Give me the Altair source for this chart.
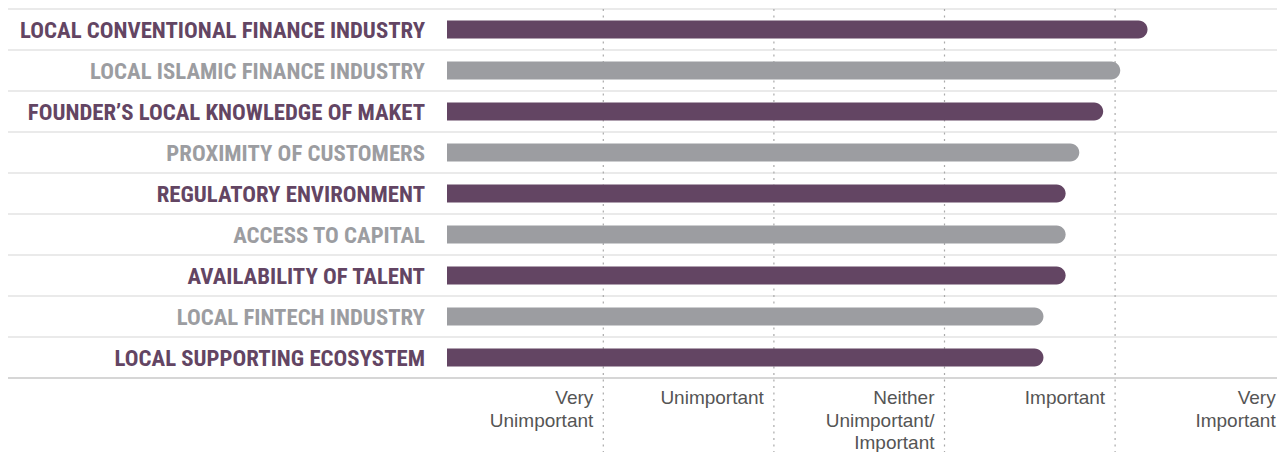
import altair as alt
import pandas as pd

categories = [
    "LOCAL CONVENTIONAL FINANCE INDUSTRY",
    "LOCAL ISLAMIC FINANCE INDUSTRY",
    "FOUNDER\u2019S LOCAL KNOWLEDGE OF MAKET",
    "PROXIMITY OF CUSTOMERS",
    "REGULATORY ENVIRONMENT",
    "ACCESS TO CAPITAL",
    "AVAILABILITY OF TALENT",
    "LOCAL FINTECH INDUSTRY",
    "LOCAL SUPPORTING ECOSYSTEM",
]
scores = [4.19, 4.03, 3.93, 3.79, 3.71, 3.71, 3.71, 3.58, 3.58]
groups = ["a", "b", "a", "b", "a", "b", "a", "b", "a"]

scale_pos = [1, 2, 3, 4, 5]
scale_labels = [
    "Very\nUnimportant",
    "Unimportant",
    "Neither\nUnimportant/\nImportant",
    "Important",
    "Very\nImportant",
]
grid_pos = [1, 2, 3, 4]

PURPLE = "#634563"
GREY = "#9c9da1"

W, H = 830, 369
XMIN, XMAX = 0.0838, 4.9490

df = pd.DataFrame({"cat": categories, "score": scores, "grp": groups})
df_lab = pd.DataFrame({"pos": scale_pos, "label": scale_labels})
df_grid = pd.DataFrame({"pos": grid_pos})

xscale = alt.Scale(domain=[XMIN, XMAX], nice=False, zero=False)
yscale = alt.Scale(domain=categories, paddingInner=0, paddingOuter=0)
cscale = alt.Scale(domain=["a", "b"], range=[PURPLE, GREY])

base = alt.Chart(df)

sep = base.mark_rule(color="#d6d6d6", strokeWidth=1.2).encode(
    y=alt.Y("cat:N", scale=yscale, bandPosition=0, axis=None),
    x=alt.value(-439),
    x2=alt.value(W),
)
sep_bottom = base.mark_rule(color="#d6d6d6", strokeWidth=1.2).encode(
    y=alt.value(H),
    x=alt.value(-439),
    x2=alt.value(W),
)

grid = alt.Chart(df_grid).mark_rule(
    color="#aaaaaa", strokeWidth=1.2, strokeDash=[2, 4.5]
).encode(
    x=alt.X("pos:Q", scale=xscale, axis=None),
    y=alt.value(0),
    y2=alt.value(443),
)

bars = base.mark_bar(
    size=18, cornerRadiusTopRight=9, cornerRadiusBottomRight=9
).encode(
    y=alt.Y("cat:N", scale=yscale, axis=None),
    x=alt.X("score:Q", scale=xscale, axis=None),
    x2=alt.datum(XMIN),
    color=alt.Color("grp:N", scale=cscale, legend=None),
)

labels = base.mark_text(
    align="right",
    baseline="alphabetic",
    dy=8.4,
    font="Roboto Condensed, Liberation Sans Narrow, Liberation Sans",
    fontWeight="bold",
    fontSize=22.8,
).encode(
    y=alt.Y("cat:N", scale=yscale, axis=None),
    x=alt.value(-22),
    text="cat:N",
    color=alt.Color("grp:N", scale=cscale, legend=None),
)

xlabels = alt.Chart(df_lab).mark_text(
    align="right",
    baseline="alphabetic",
    lineBreak="\n",
    lineHeight=22.5,
    fontSize=19,
    font="Liberation Sans",
    color="#555555",
    dx=-10,
).encode(
    x=alt.X("pos:Q", scale=xscale, axis=None),
    y=alt.value(395),
    text="label:N",
)

chart = (
    alt.layer(sep, sep_bottom, grid, bars, labels, xlabels)
    .properties(
        width=W,
        height=H,
        autosize=alt.AutoSizeParams(type="none"),
        padding={"left": 439, "top": 1, "right": 0, "bottom": 74},
    )
    .configure_view(stroke=None)
)

chart.save("out.html", embed_options={"renderer": "svg", "actions": False})
